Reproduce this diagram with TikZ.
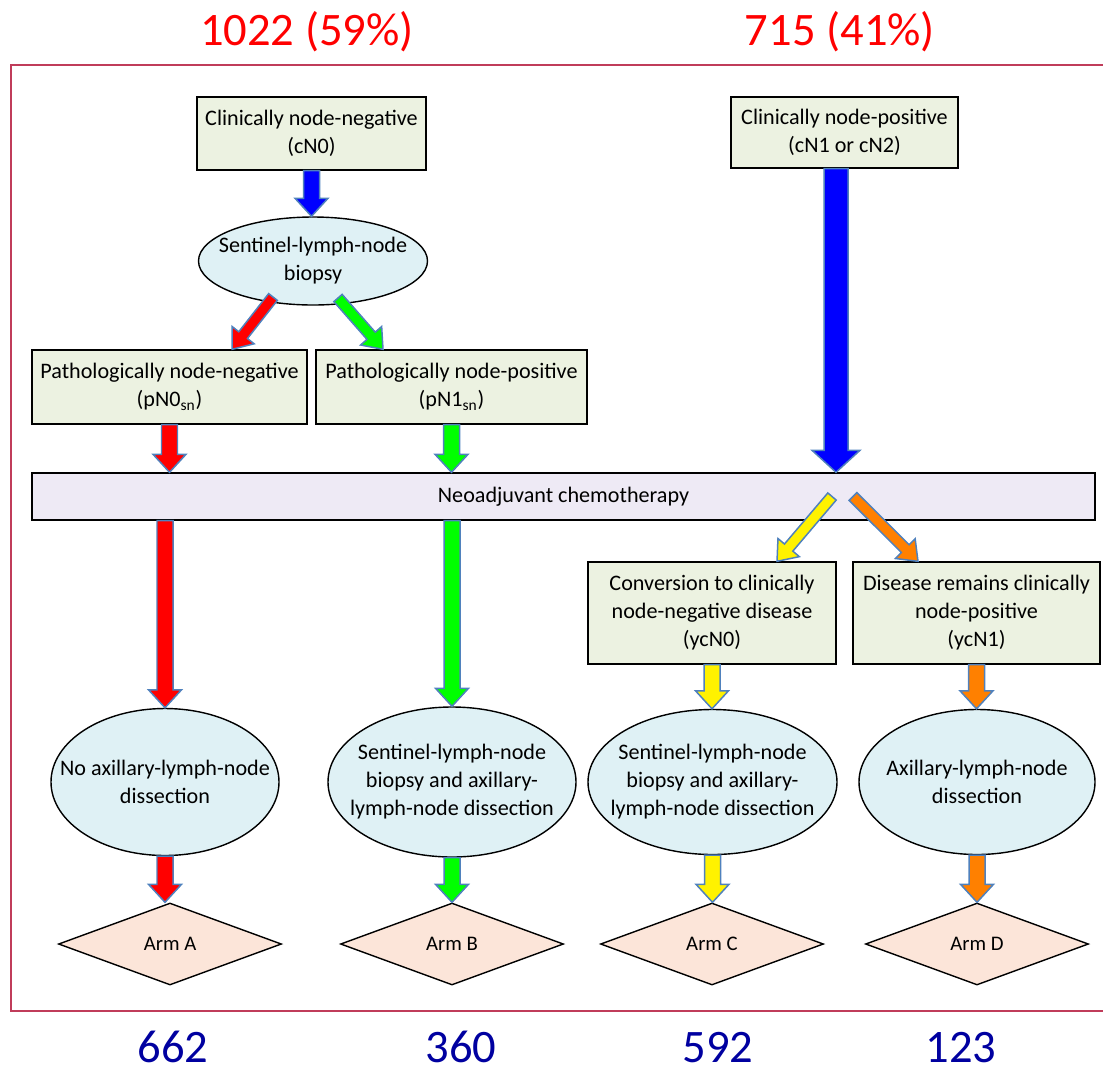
\documentclass[tikz,border=0pt]{standalone}
\usepackage{fontspec}
\setmainfont{Carlito}
\usepackage{xcolor}
\usepackage{tikz}
\usetikzlibrary{shapes,calc,positioning}

\definecolor{boxfill}{RGB}{236,242,225}
\definecolor{ellfill}{RGB}{223,241,245}
\definecolor{chemofill}{RGB}{238,234,245}
\definecolor{armfill}{RGB}{252,229,217}
\definecolor{arrowedge}{RGB}{79,129,189}
\definecolor{framecol}{RGB}{192,60,90}
\definecolor{numblue}{RGB}{0,0,160}
\definecolor{armorange}{RGB}{255,128,0}

\newcommand{\bodyfont}{\fontsize{12.6}{15.9}\selectfont}
\newcommand{\armfont}{\fontsize{11.8}{14}\selectfont}
\newcommand{\countfont}{\fontsize{26.5}{30}\selectfont}

\tikzset{
  pbox/.style={draw, line width=0.8pt, fill=boxfill, align=center, inner sep=2pt, font=\bodyfont},
  pell/.style={ellipse, draw, line width=0.8pt, fill=ellfill, align=center, inner xsep=-0.6cm, inner ysep=0pt, font=\bodyfont},
  parm/.style={diamond, draw, line width=0.8pt, fill=armfill, inner sep=0pt, aspect=2.7,
    minimum width=4.46cm, minimum height=1.64cm, font=\armfont},
  count/.style={anchor=base, inner sep=0pt, font=\countfont},
}

% block arrow: fill colour, tail, tip (sizes from \fasw, \fahw, \fahl)
\newcommand{\fatarrow}[3]{%
  \coordinate (fa-t) at (#2);
  \coordinate (fa-p) at (#3);
  \coordinate (fa-h) at ($(fa-p)!\fahl!(fa-t)$);
  \filldraw[fill=#1, draw=arrowedge, line width=0.85pt, line join=miter]
    ($(fa-t)!\fasw!90:(fa-p)$) -- ($(fa-h)!\fasw!90:(fa-p)$) -- ($(fa-h)!\fahw!90:(fa-p)$) -- (fa-p)
    -- ($(fa-h)!\fahw!-90:(fa-p)$) -- ($(fa-h)!\fasw!-90:(fa-p)$) -- ($(fa-t)!\fasw!-90:(fa-p)$) -- cycle;
}

\begin{document}
\begin{tikzpicture}
    \useasboundingbox (0,0) rectangle (22.06,-21.5);

    % Totals
    \node[count, text=red] (topneg) at (6.14,-0.90) {1022 (59\%)};
    \node[count, text=red] (toppos) at (16.80,-0.90) {715 (41\%)};

    % Frame (open on the right)
    \draw[framecol, line width=0.85pt] (22.06,-1.30) -- (0.22,-1.30) -- (0.22,-20.22) -- (22.06,-20.22);

    % Top row
    \node[pbox, minimum width=4.58cm, minimum height=1.46cm] (cn0) at (6.23,-2.67) {Clinically node-negative\\(cN0)};
    \node[pbox, minimum width=4.54cm, minimum height=1.42cm] (cn1) at (16.89,-2.65) {Clinically node-positive\\(cN1 or cN2)};
    \node[pell, minimum width=4.58cm, minimum height=1.76cm] (slnb) at (6.26,-5.22) {Sentinel-lymph-node\\biopsy};

    % Pathological status
    \node[pbox, minimum width=5.50cm, minimum height=1.48cm] (pn0) at (3.39,-7.74) {Pathologically node-negative\\(pN0\textsubscript{sn})};
    \node[pbox, minimum width=5.42cm, minimum height=1.48cm] (pn1) at (9.03,-7.74) {Pathologically node-positive\\(pN1\textsubscript{sn})};

    % Chemotherapy bar
    \node[pbox, fill=chemofill, minimum width=21.26cm, minimum height=0.94cm] (chemo) at (11.27,-9.93) {Neoadjuvant chemotherapy};

    % Response
    \node[pbox, minimum width=4.96cm, minimum height=2.04cm] (ycn0) at (14.24,-12.26) {Conversion to clinically\\node-negative disease\\(ycN0)};
    \node[pbox, minimum width=4.94cm, minimum height=2.04cm] (ycn1) at (19.53,-12.26) {Disease remains clinically\\node-positive\\(ycN1)};

    % Surgery
    \node[pell, minimum width=4.56cm, minimum height=2.94cm] (ella) at (3.30,-15.64) {No axillary-lymph-node\\dissection};
    \node[pell, minimum width=4.96cm, minimum height=3.00cm] (ellb) at (9.04,-15.64) {Sentinel-lymph-node\\biopsy and axillary-\\lymph-node dissection};
    \node[pell, minimum width=4.98cm, minimum height=2.90cm] (ellc) at (14.25,-15.64) {Sentinel-lymph-node\\biopsy and axillary-\\lymph-node dissection};
    \node[pell, minimum width=4.72cm, minimum height=2.90cm] (elld) at (19.54,-15.64) {Axillary-lymph-node\\dissection};

    % Arms
    \node[parm] (arma) at (3.40,-18.88) {Arm A};
    \node[parm] (armb) at (9.04,-18.88) {Arm B};
    \node[parm] (armc) at (14.24,-18.88) {Arm C};
    \node[parm] (armd) at (19.54,-18.88) {Arm D};

    % Arm counts
    \node[count, text=numblue] (nA) at (3.46,-21.25) {662};
    \node[count, text=numblue] (nB) at (9.22,-21.25) {360};
    \node[count, text=numblue] (nC) at (14.36,-21.25) {592};
    \node[count, text=numblue] (nD) at (19.22,-21.25) {123};

    % Straight arrows
    \def\fasw{0.16cm}\def\fahw{0.33cm}\def\fahl{0.36cm}
    \fatarrow{blue}{cn0.south}{cn0.south |- slnb.north}
    \fatarrow{red}{pn0.south}{pn0.south |- chemo.north}
    \fatarrow{green}{pn1.south}{pn1.south |- chemo.north}
    \fatarrow{red}{ella.north |- chemo.south}{ella.north}
    \fatarrow{green}{ellb.north |- chemo.south}{ellb.north}
    \fatarrow{yellow}{ycn0.south}{ycn0.south |- ellc.north}
    \fatarrow{armorange}{ycn1.south}{ycn1.south |- elld.north}
    \fatarrow{red}{ella.south}{ella.south |- arma.north}
    \fatarrow{green}{ellb.south}{ellb.south |- armb.north}
    \fatarrow{yellow}{ellc.south}{ellc.south |- armc.north}
    \fatarrow{armorange}{elld.south}{elld.south |- armd.north}

    % Long arrow
    \def\fasw{0.24cm}\def\fahw{0.48cm}\def\fahl{0.44cm}
    \fatarrow{blue}{[xshift=-0.17cm]cn1.south}{[xshift=-0.17cm]cn1.south |- chemo.north}

    % Diagonal arrows
    \def\fasw{0.11cm}\def\fahw{0.28cm}\def\fahl{0.36cm}
    \fatarrow{red}{$(slnb.center)+(-0.80,-0.72)$}{[xshift=1.25cm]pn0.north}
    \fatarrow{green}{$(slnb.center)+(0.50,-0.74)$}{[xshift=-1.37cm]pn1.north}
    \fatarrow{yellow}{[xshift=5.37cm]chemo.center}{[xshift=1.30cm]ycn0.north}
    \fatarrow{armorange}{[xshift=5.79cm]chemo.center}{[xshift=-1.17cm]ycn1.north}
\end{tikzpicture}
\end{document}
